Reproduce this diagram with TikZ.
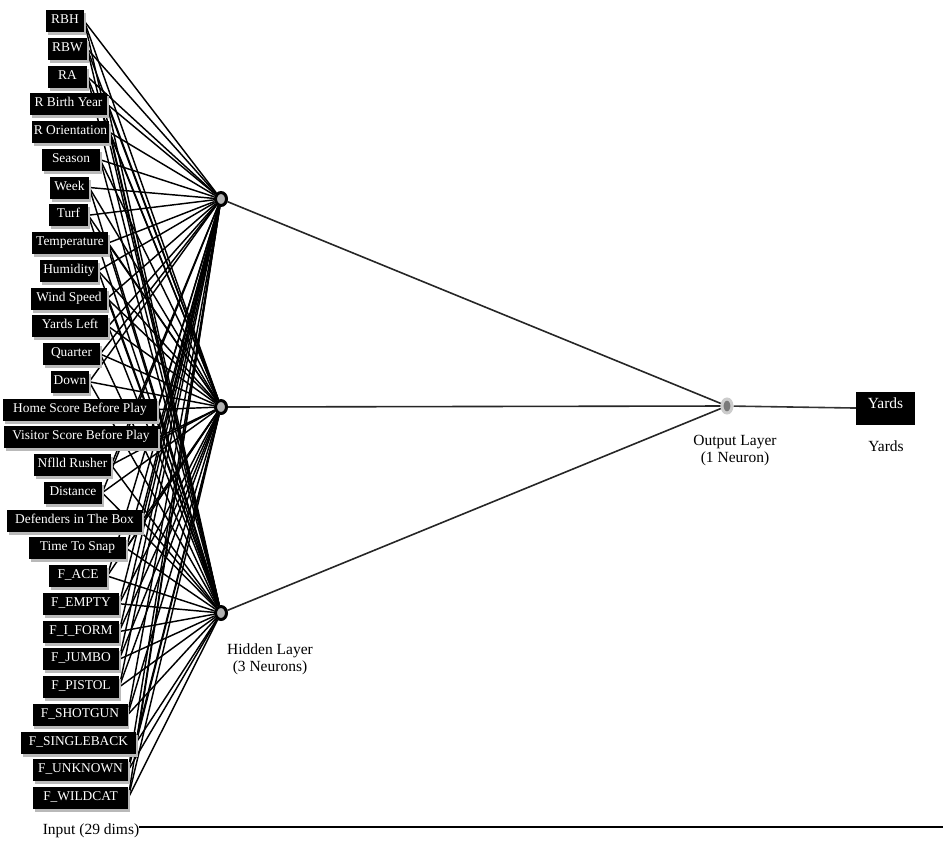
\documentclass[tikz,border=0pt]{standalone}
\usepackage{fontspec}
\setmainfont{Liberation Serif}
\usetikzlibrary{shapes.geometric,shadows}
\pgfdeclarelayer{bg}
\pgfsetlayers{bg,main}
\begin{document}
\begin{tikzpicture}[x=1pt,y=-1pt,
  inbox/.style={rectangle, fill=black, text=white, inner xsep=1pt, inner ysep=0pt,
    minimum height=22pt, text height=9pt, text depth=4pt,
    font=\fontsize{13.4}{15}\selectfont,
    general shadow={fill=gray!55, shadow xshift=1.5pt, shadow yshift=-3pt}},
  hid/.style={ellipse, draw=black, line width=3pt, fill=gray!60, minimum width=11pt, minimum height=13pt, inner sep=0pt},
  outn/.style={ellipse, draw=gray!40, line width=3pt, fill=gray!60!black!75, minimum width=10pt, minimum height=14pt, inner sep=0pt},
  conn/.style={draw=black, line width=1.45pt},
  hconn/.style={draw=black!85, line width=1.6pt},
  lab/.style={align=center, font=\fontsize{15.5}{17}\selectfont, inner sep=0pt},
  yardsbox/.style={rectangle, fill=black, text=white, minimum width=59pt, inner xsep=1pt, inner ysep=3pt,
    text height=13pt, text depth=14pt, font=\fontsize{15.5}{17}\selectfont}
]
\useasboundingbox (0,0) rectangle (945,841);

% hidden and output neurons
\node[hid] (h1) at (221,199) {};
\node[hid] (h2) at (221,407) {};
\node[hid] (h3) at (221,613) {};
\node[outn] (o) at (727,406) {};
\node[yardsbox] (yb) at (885.5,408.5) {Yards};

% input boxes
\foreach \cx/\w/\t [count=\i] in {
  65/38/RBH, 67.5/39/RBW, 67.5/39/RA, 68.5/77/R Birth Year, 70.5/77/R Orientation,
  71/58/Season, 69.5/39/Week, 68.5/39/Turf, 70/76/Temperature, 69/58/Humidity,
  69/76/Wind Speed, 70/76/Yards Left, 71.5/57/Quarter, 70/38/Down,
  80/154/Home Score Before Play, 81/154/Visitor Score Before Play, 72.5/77/Nflld Rusher,
  73/58/Distance, 74.5/135/Defenders in The Box, 77.5/97/Time To Snap,
  78/58/F\_ACE, 81/76/F\_EMPTY, 81/76/F\_I\_FORM, 81/76/F\_JUMBO, 81/76/F\_PISTOL,
  80/95/F\_SHOTGUN, 78.5/115/F\_SINGLEBACK, 80.5/95/F\_UNKNOWN, 80.5/95/F\_WILDCAT}
{
  \node[inbox, minimum width=\w pt] (i\i) at (\cx,{21+27.75*(\i-1)}) {\t};
}

% connectors input -> hidden
\begin{pgfonlayer}{bg}
\foreach \i in {1,...,29}{
  \foreach \h in {1,2,3}{
    \draw[conn] (i\i.east) -- (h\h);
  }
}
\draw[hconn] (h1) -- (o);
\draw[hconn] (h2) -- (o);
\draw[hconn] (h3) -- (o);
\draw[draw=gray!40!black, line width=1.6pt] (o) -- (yb);
\end{pgfonlayer}

% labels
\node[lab] (hl) at (270,659) {Hidden Layer\\(3 Neurons)};
\node[lab] (ol) at (735,451) {Output Layer\\(1 Neuron)};
\node[lab] (yl) at (886,446) {Yards};
\node[lab, anchor=base] (il) at (91,834) {Input (29 dims)};
\coordinate (iend) at (943,827);
\draw[line width=1.3pt] (il.east |- iend) -- (iend);
\end{tikzpicture}
\end{document}
